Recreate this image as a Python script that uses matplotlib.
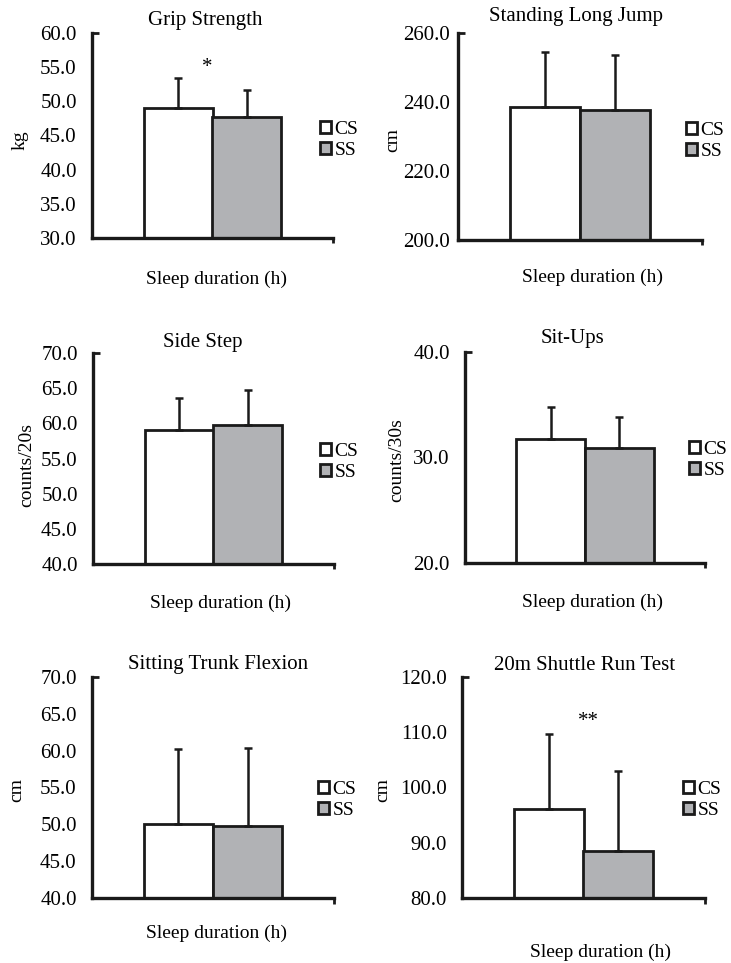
import matplotlib
matplotlib.use("Agg")
import matplotlib.pyplot as plt
import numpy as np
from matplotlib.patches import Patch
from matplotlib.ticker import FormatStrFormatter

plt.rcParams['font.family'] = ['Liberation Serif', 'DejaVu Serif']

# data (mean and upward SD)
titles = ["Grip Strength", "Standing Long Jump", "Side Step",
          "Sit-Ups", "Sitting Trunk Flexion", "20m Shuttle Run Test"]
ylabels = ["kg", "cm", "counts/20s", "counts/30s", "cm", "cm"]
groups = ["CS", "SS"]
cs_mean = [49.0, 238.6, 59.1, 31.8, 50.0, 96.1]
cs_sd = [4.4, 16.0, 4.5, 3.0, 10.2, 13.6]
ss_mean = [47.7, 237.7, 59.7, 30.9, 49.8, 88.5]
ss_sd = [3.9, 15.8, 5.1, 2.9, 10.6, 14.4]
y_min = [30, 200, 40, 20, 40, 80]
y_max = [60, 260, 70, 40, 70, 120]
y_step = [5, 20, 5, 10, 5, 10]
signif = ["*", "", "", "", "", "**"]
xlabel = "Sleep duration (h)"

W, H = 731, 963
fig = plt.figure(figsize=(W / 100, H / 100), dpi=100)

# panel boxes in pixels: left, right, top, bottom
boxes = [(92, 333, 33, 238), (458, 702, 33, 240),
         (93, 334, 353, 564), (465, 705, 352, 563),
         (92, 334, 677, 898), (462, 705, 677, 898)]
title_pos = [(205, 21), (576, 16), (203, 342), (573, 338), (218, 665), (585, 665)]
xlab_pos = [(216, 279), (592, 277), (220, 603), (592, 602), (217, 933), (601, 952)]
ylab_pos = [(20, 140), (393, 140), (27, 465), (397, 460), (17, 790), (383, 790)]
leg_pos = [(320, 140), (686, 141), (320, 462), (689, 460), (318, 800), (683, 800)]
star_pos = [(207, 67), None, None, None, None, (588, 721)]
tick_pad = [11, 6, 11, 11, 11, 11]

gray = "#b1b2b5"

for i in range(6):
    l, r, t, b = boxes[i]
    ax = fig.add_axes([l / W, 1 - b / H, (r - l) / W, (b - t) / H])
    x = np.arange(len(groups))
    ax.bar(x, [cs_mean[i], ss_mean[i]], width=1.0,
           color=["white", gray], edgecolor="#1a1a1a", linewidth=2.0,
           yerr=[[0, 0], [cs_sd[i], ss_sd[i]]],
           error_kw=dict(ecolor="#1a1a1a", elinewidth=1.8, capsize=3, capthick=1.8),
           zorder=3)
    ax.set_xlim(-1.25, 2.25)
    ax.set_ylim(y_min[i], y_max[i])
    ax.set_yticks(np.arange(y_min[i], y_max[i] + 0.01, y_step[i]))
    ax.yaxis.set_major_formatter(FormatStrFormatter("%.1f"))
    ax.set_xticks([])
    ax.tick_params(axis="y", length=0, pad=tick_pad[i], labelsize=15)
    for s in ["top", "right"]:
        ax.spines[s].set_visible(False)
    for s in ["left", "bottom"]:
        ax.spines[s].set_linewidth(2.4)
        ax.spines[s].set_color("#1a1a1a")
        ax.spines[s].set_zorder(4)
    # small end stubs on the axis lines
    ax.plot([0, 0.03], [1, 1], transform=ax.transAxes, color="#1a1a1a",
            lw=2.0, clip_on=False, solid_capstyle="butt")
    ax.plot([1, 1], [0, -0.025], transform=ax.transAxes, color="#1a1a1a",
            lw=2.0, clip_on=False, solid_capstyle="butt")

    fig.text(title_pos[i][0] / W, 1 - title_pos[i][1] / H, titles[i],
             ha="center", va="center", fontsize=15)
    fig.text(xlab_pos[i][0] / W, 1 - xlab_pos[i][1] / H, xlabel,
             ha="center", va="center", fontsize=14)
    fig.text(ylab_pos[i][0] / W, 1 - ylab_pos[i][1] / H, ylabels[i],
             ha="center", va="center", rotation=90, fontsize=14)

    handles = [Patch(facecolor="white", edgecolor="#1a1a1a", linewidth=2.0),
               Patch(facecolor=gray, edgecolor="#1a1a1a", linewidth=2.0)]
    ax.legend(handles, groups, loc="center left",
              bbox_to_anchor=(leg_pos[i][0] / W, 1 - leg_pos[i][1] / H),
              bbox_transform=fig.transFigure, frameon=False, fontsize=14,
              handlelength=0.55, handleheight=0.55, handletextpad=0.2,
              labelspacing=0.2, borderpad=0, borderaxespad=0)

    if signif[i]:
        sx, sy = star_pos[i]
        fig.text(sx / W, 1 - sy / H, signif[i], ha="center", va="center",
                 fontsize=15)

fig.savefig("out.png", dpi=100)
